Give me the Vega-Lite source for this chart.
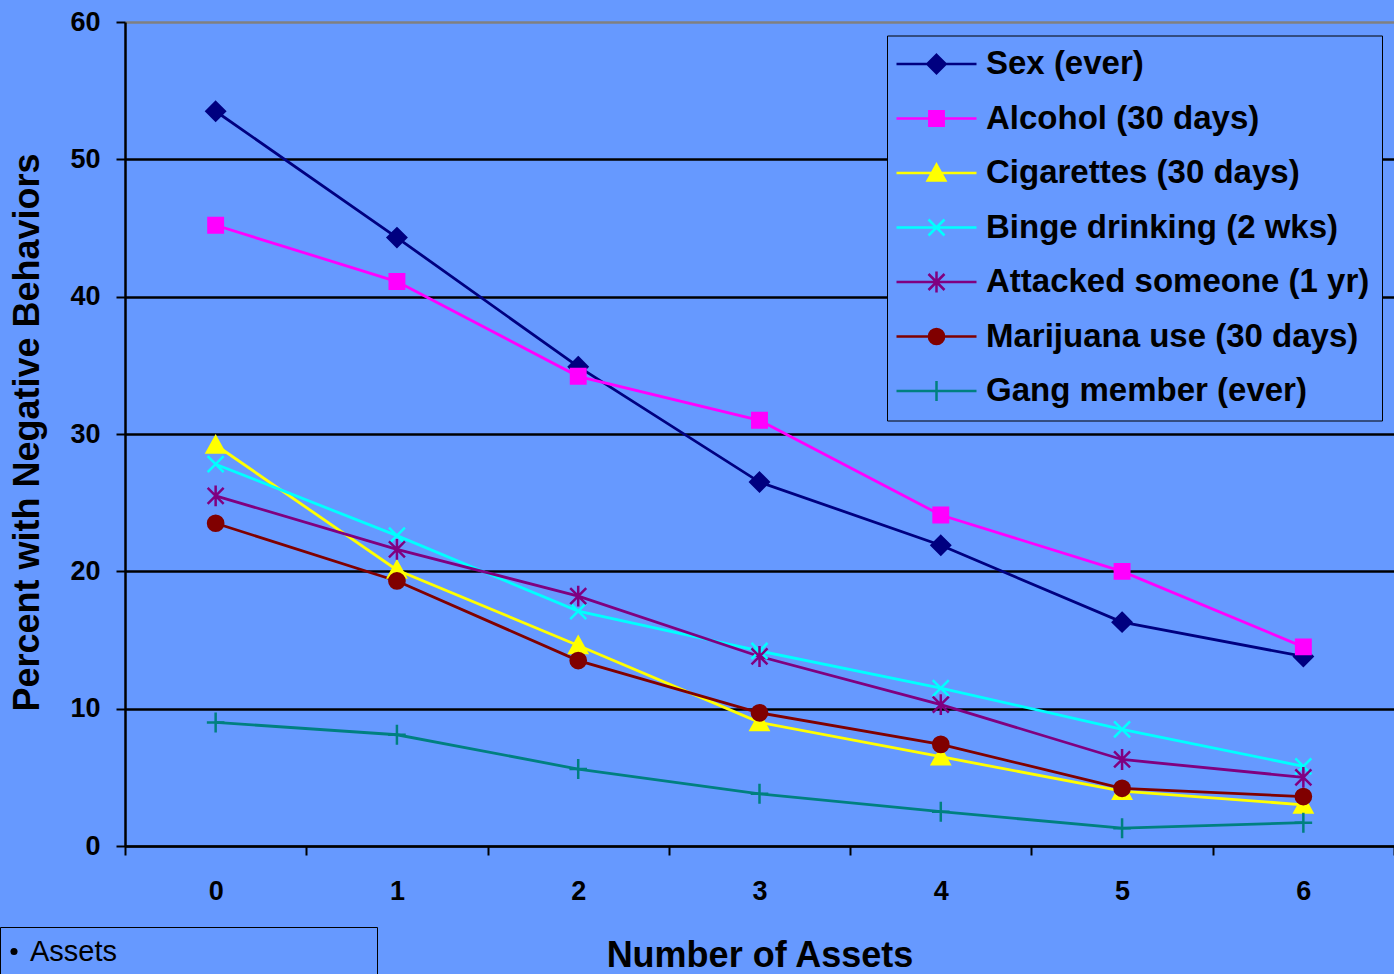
{
  "$schema": "https://vega.github.io/schema/vega-lite/v6.json",
  "width": 1269,
  "height": 824,
  "autosize": "none",
  "padding": {"left": 125, "top": 22, "right": 0, "bottom": 128},
  "background": "#6699FF",
  "config": {
    "view": {"stroke": null, "fill": "#6699FF"},
    "font": "Liberation Sans"
  },
  "data": {
    "values": [
      {"series": "Sex (ever)", "assets": 0, "pct": 53.5},
      {"series": "Sex (ever)", "assets": 1, "pct": 44.3},
      {"series": "Sex (ever)", "assets": 2, "pct": 34.9},
      {"series": "Sex (ever)", "assets": 3, "pct": 26.5},
      {"series": "Sex (ever)", "assets": 4, "pct": 21.9},
      {"series": "Sex (ever)", "assets": 5, "pct": 16.3},
      {"series": "Sex (ever)", "assets": 6, "pct": 13.8},
      {"series": "Alcohol (30 days)", "assets": 0, "pct": 45.2},
      {"series": "Alcohol (30 days)", "assets": 1, "pct": 41.1},
      {"series": "Alcohol (30 days)", "assets": 2, "pct": 34.2},
      {"series": "Alcohol (30 days)", "assets": 3, "pct": 31.0},
      {"series": "Alcohol (30 days)", "assets": 4, "pct": 24.1},
      {"series": "Alcohol (30 days)", "assets": 5, "pct": 20.0},
      {"series": "Alcohol (30 days)", "assets": 6, "pct": 14.5},
      {"series": "Cigarettes (30 days)", "assets": 0, "pct": 29.2},
      {"series": "Cigarettes (30 days)", "assets": 1, "pct": 20.1},
      {"series": "Cigarettes (30 days)", "assets": 2, "pct": 14.6},
      {"series": "Cigarettes (30 days)", "assets": 3, "pct": 9.0},
      {"series": "Cigarettes (30 days)", "assets": 4, "pct": 6.5},
      {"series": "Cigarettes (30 days)", "assets": 5, "pct": 4.0},
      {"series": "Cigarettes (30 days)", "assets": 6, "pct": 3.0},
      {"series": "Binge drinking (2 wks)", "assets": 0, "pct": 27.8},
      {"series": "Binge drinking (2 wks)", "assets": 1, "pct": 22.6},
      {"series": "Binge drinking (2 wks)", "assets": 2, "pct": 17.1},
      {"series": "Binge drinking (2 wks)", "assets": 3, "pct": 14.2},
      {"series": "Binge drinking (2 wks)", "assets": 4, "pct": 11.5},
      {"series": "Binge drinking (2 wks)", "assets": 5, "pct": 8.5},
      {"series": "Binge drinking (2 wks)", "assets": 6, "pct": 5.8},
      {"series": "Attacked someone (1 yr)", "assets": 0, "pct": 25.5},
      {"series": "Attacked someone (1 yr)", "assets": 1, "pct": 21.6},
      {"series": "Attacked someone (1 yr)", "assets": 2, "pct": 18.2},
      {"series": "Attacked someone (1 yr)", "assets": 3, "pct": 13.8},
      {"series": "Attacked someone (1 yr)", "assets": 4, "pct": 10.3},
      {"series": "Attacked someone (1 yr)", "assets": 5, "pct": 6.3},
      {"series": "Attacked someone (1 yr)", "assets": 6, "pct": 5.0},
      {"series": "Marijuana use (30 days)", "assets": 0, "pct": 23.5},
      {"series": "Marijuana use (30 days)", "assets": 1, "pct": 19.3},
      {"series": "Marijuana use (30 days)", "assets": 2, "pct": 13.5},
      {"series": "Marijuana use (30 days)", "assets": 3, "pct": 9.7},
      {"series": "Marijuana use (30 days)", "assets": 4, "pct": 7.4},
      {"series": "Marijuana use (30 days)", "assets": 5, "pct": 4.2},
      {"series": "Marijuana use (30 days)", "assets": 6, "pct": 3.6},
      {"series": "Gang member (ever)", "assets": 0, "pct": 9.0},
      {"series": "Gang member (ever)", "assets": 1, "pct": 8.1},
      {"series": "Gang member (ever)", "assets": 2, "pct": 5.6},
      {"series": "Gang member (ever)", "assets": 3, "pct": 3.8},
      {"series": "Gang member (ever)", "assets": 4, "pct": 2.5},
      {"series": "Gang member (ever)", "assets": 5, "pct": 1.3},
      {"series": "Gang member (ever)", "assets": 6, "pct": 1.7}
    ]
  },
  "encoding": {
    "x": {
      "field": "assets",
      "type": "ordinal",
      "bandPosition": 0.5,
      "scale": {"type": "band", "paddingInner": 0, "paddingOuter": 0},
      "title": "Number of Assets",
      "axis": {
        "labelAngle": 0,
        "tickBand": "extent",
        "grid": false,
        "domainColor": "black",
        "domainWidth": 2,
        "tickColor": "black",
        "tickWidth": 2,
        "tickSize": 9,
        "labelFont": "Liberation Sans",
        "labelFontWeight": "bold",
        "labelFontSize": 27,
        "labelColor": "black",
        "labelPadding": 23,
        "titleFont": "Liberation Sans",
        "titleFontSize": 36,
        "titleFontWeight": "bold",
        "titleColor": "black",
        "titleY": 109,
        "titleBaseline": "middle"
      }
    },
    "y": {
      "field": "pct",
      "type": "quantitative",
      "scale": {"domain": [0, 60], "nice": false},
      "title": "Percent with Negative Behaviors",
      "axis": {
        "values": [0, 10, 20, 30, 40, 50, 60],
        "grid": true,
        "gridColor": {"condition": {"test": "datum.value === 60", "value": "#808080"}, "value": "black"},
        "gridWidth": 2.5,
        "domainColor": "black",
        "domainWidth": 2.5,
        "tickColor": "black",
        "tickWidth": 2,
        "tickSize": 9,
        "labelFont": "Liberation Sans",
        "labelFontWeight": "bold",
        "labelFontSize": 27,
        "labelColor": "black",
        "labelPadding": 16,
        "labelFlush": false,
        "labelOverlap": false,
        "titleFont": "Liberation Sans",
        "titleFontSize": 36,
        "titleFontWeight": "bold",
        "titleColor": "black",
        "titleAngle": -90,
        "titleX": -98,
        "titleY": 410,
        "titleAlign": "center",
        "titleBaseline": "middle"
      }
    }
  },
  "resolve": {
    "scale": {"shape": "independent"},
    "legend": {"color": "independent", "shape": "independent", "stroke": "independent"}
  },
  "layer": [
    {
      "mark": {"type": "line", "strokeWidth": 2.8},
      "encoding": {
        "color": {
          "field": "series",
          "type": "nominal",
          "scale": {
            "domain": ["Sex (ever)", "Alcohol (30 days)", "Cigarettes (30 days)", "Binge drinking (2 wks)", "Attacked someone (1 yr)", "Marijuana use (30 days)", "Gang member (ever)"],
            "range": ["#000080", "#FF00FF", "#FFFF00", "#00FFFF", "#800080", "#800000", "#008080"]
          },
          "legend": null
        },
        "opacity": {
          "datum": "Assets",
          "type": "nominal",
          "scale": {"domain": ["Assets"], "range": [1]},
          "legend": {
            "title": null,
            "orient": "none",
            "legendX": -125,
            "legendY": 905,
            "padding": 10,
            "strokeColor": "black",
            "fillColor": "#6699FF",
            "symbolType": "circle",
            "symbolSize": 50,
            "symbolFillColor": "black",
            "symbolStrokeColor": "black",
            "symbolStrokeWidth": 0,
            "symbolOffset": -10.5,
            "labelFont": "Liberation Sans",
            "labelFontSize": 29,
            "labelFontWeight": "normal",
            "labelColor": "black",
            "labelOffset": 1.5,
            "labelLimit": 1000,
            "labelExpr": "datum.label + '\u00a0\u00a0\u00a0\u00a0\u00a0\u00a0\u00a0\u00a0\u00a0\u00a0\u00a0\u00a0\u00a0\u00a0\u00a0\u00a0\u00a0\u00a0\u00a0\u00a0\u00a0\u00a0\u00a0\u00a0\u00a0\u00a0\u00a0\u00a0\u00a0\u00a0\u00a0\u200b'"
          }
        }
      }
    },
    {
      "mark": {"type": "point", "filled": true, "size": 256, "strokeWidth": 2.5, "opacity": 1},
      "encoding": {
        "color": {
          "field": "series",
          "type": "nominal",
          "scale": {
            "domain": ["Sex (ever)", "Alcohol (30 days)", "Cigarettes (30 days)", "Binge drinking (2 wks)", "Attacked someone (1 yr)", "Marijuana use (30 days)", "Gang member (ever)"],
            "range": ["#000080", "#FF00FF", "#FFFF00", "#00FFFF", "#800080", "#800000", "#008080"]
          },
          "legend": null
        },
        "shape": {
          "field": "series",
          "type": "nominal",
          "scale": {
            "domain": ["Sex (ever)", "Alcohol (30 days)", "Cigarettes (30 days)", "Binge drinking (2 wks)", "Attacked someone (1 yr)", "Marijuana use (30 days)", "Gang member (ever)"],
            "range": ["M0,-1.15L1.15,0L0,1.15L-1.15,0Z", "M-0.9,-0.9H0.9V0.9H-0.9Z", "M0,-1.05L1.1,0.95L-1.1,0.95Z", "M-1,-1L1,1M-1,1L1,-1", "M-1,-1L1,1M-1,1L1,-1M0,-1.3V1.3", "M0.95,0A0.95,0.95,0,1,1,-0.95,0A0.95,0.95,0,1,1,0.95,0Z", "M-1.1,0H1.1M0,-1.25V1.25"]
          },
          "legend": null
        },
        "stroke": {
          "field": "series",
          "type": "nominal",
          "scale": {
            "domain": ["Sex (ever)", "Alcohol (30 days)", "Cigarettes (30 days)", "Binge drinking (2 wks)", "Attacked someone (1 yr)", "Marijuana use (30 days)", "Gang member (ever)"],
            "range": ["#000080", "#FF00FF", "#FFFF00", "#00FFFF", "#800080", "#800000", "#008080"]
          },
          "legend": null
        }
      }
    },
    {
      "transform": [{"filter": "false"}],
      "mark": {"type": "point", "filled": true, "size": 256, "strokeWidth": 2.5, "opacity": 1},
      "encoding": {
        "color": {
          "field": "series",
          "type": "nominal",
          "scale": {
            "domain": ["Sex (ever)", "Alcohol (30 days)", "Cigarettes (30 days)", "Binge drinking (2 wks)", "Attacked someone (1 yr)", "Marijuana use (30 days)", "Gang member (ever)"],
            "range": ["#000080", "#FF00FF", "#FFFF00", "#00FFFF", "#800080", "#800000", "#008080"]
          },
          "legend": {
            "title": null, "orient": "none", "legendX": 762, "legendY": 13.5, "padding": 12,
            "strokeColor": "black", "fillColor": "#6699FF",
            "labelFont": "Liberation Sans", "labelFontWeight": "bold", "labelFontSize": 33, "labelColor": "black", "labelLimit": 1000,
            "symbolSize": 256, "symbolStrokeWidth": 2.5, "symbolOpacity": 1, "symbolOffset": 21, "labelOffset": 33, "rowPadding": 20.5
          }
        },
        "shape": {
          "field": "series",
          "type": "nominal",
          "scale": {
            "domain": ["Sex (ever)", "Alcohol (30 days)", "Cigarettes (30 days)", "Binge drinking (2 wks)", "Attacked someone (1 yr)", "Marijuana use (30 days)", "Gang member (ever)"],
            "range": ["M-5,0H5M0,-1.15L1.15,0L0,1.15L-1.15,0Z", "M-5,0H5M-0.9,-0.9H0.9V0.9H-0.9Z", "M-5,0H5M0,-1.05L1.1,0.95L-1.1,0.95Z", "M-5,0H5M-1,-1L1,1M-1,1L1,-1", "M-5,0H5M-1,-1L1,1M-1,1L1,-1M0,-1.3V1.3", "M-5,0H5M0.95,0A0.95,0.95,0,1,1,-0.95,0A0.95,0.95,0,1,1,0.95,0Z", "M-5,0H5M0,-1.25V1.25"]
          },
          "legend": {
            "title": null, "orient": "none", "legendX": 762, "legendY": 13.5, "padding": 12,
            "strokeColor": "black", "fillColor": "#6699FF",
            "labelFont": "Liberation Sans", "labelFontWeight": "bold", "labelFontSize": 33, "labelColor": "black", "labelLimit": 1000,
            "symbolSize": 256, "symbolStrokeWidth": 2.5, "symbolOpacity": 1, "symbolOffset": 21, "labelOffset": 33, "rowPadding": 20.5
          }
        },
        "stroke": {
          "field": "series",
          "type": "nominal",
          "scale": {
            "domain": ["Sex (ever)", "Alcohol (30 days)", "Cigarettes (30 days)", "Binge drinking (2 wks)", "Attacked someone (1 yr)", "Marijuana use (30 days)", "Gang member (ever)"],
            "range": ["#000080", "#FF00FF", "#FFFF00", "#00FFFF", "#800080", "#800000", "#008080"]
          },
          "legend": {
            "title": null, "orient": "none", "legendX": 762, "legendY": 13.5, "padding": 12,
            "strokeColor": "black", "fillColor": "#6699FF",
            "labelFont": "Liberation Sans", "labelFontWeight": "bold", "labelFontSize": 33, "labelColor": "black", "labelLimit": 1000,
            "symbolSize": 256, "symbolStrokeWidth": 2.5, "symbolOpacity": 1, "symbolOffset": 21, "labelOffset": 33, "rowPadding": 20.5
          }
        }
      }
    }
  ]
}
